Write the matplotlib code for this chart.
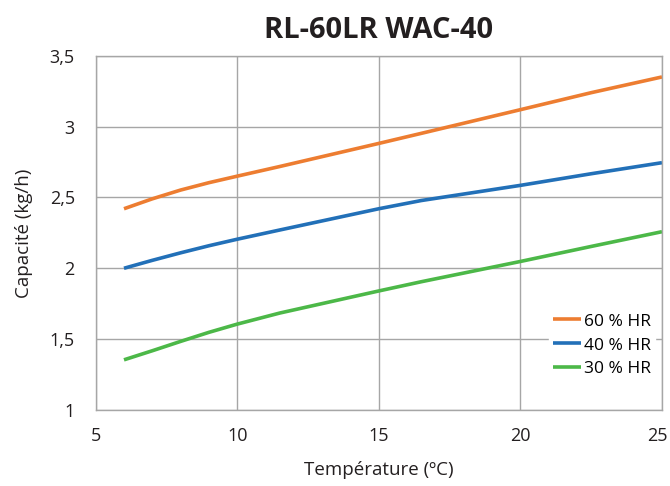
import matplotlib
matplotlib.use('Agg')
import matplotlib.pyplot as plt
from matplotlib.ticker import FuncFormatter
from matplotlib.transforms import ScaledTranslation

# Données
temperature = [6, 7, 8, 9, 10, 11.5, 15, 16.5, 20, 22.5, 25]
hr_60 = [2.42, 2.49, 2.552, 2.604, 2.65, 2.718, 2.881, 2.952, 3.119, 3.239, 3.35]
hr_40 = [2.00, 2.056, 2.109, 2.159, 2.205, 2.27, 2.42, 2.478, 2.585, 2.667, 2.745]
hr_30 = [1.354, 1.418, 1.484, 1.548, 1.606, 1.684, 1.84, 1.905, 2.048, 2.154, 2.258]

series = [
    ('60 % HR', hr_60, '#ED7D31'),
    ('40 % HR', hr_40, '#2270B8'),
    ('30 % HR', hr_30, '#4CB848'),
]

x_ticks = [5, 10, 15, 20, 25]
y_ticks = [1, 1.5, 2, 2.5, 3, 3.5]

plt.rcParams['font.family'] = ['Open Sans', 'DejaVu Sans']

fig = plt.figure(figsize=(6.7, 4.86), dpi=100)
ax = fig.add_axes([0.1428, 0.1564, 0.8452, 0.729])

for label, values, color in series:
    ax.plot(temperature, values, color=color, linewidth=2.6, label=label,
            solid_capstyle='butt', solid_joinstyle='round')

ax.set_xlim(5, 25)
ax.set_ylim(1, 3.5)
ax.set_xticks(x_ticks)
ax.set_yticks(y_ticks)
ax.yaxis.set_major_formatter(FuncFormatter(lambda v, p: f'{v:g}'.replace('.', ',')))
ax.tick_params(length=0, labelsize=13, colors='#231F20')
ax.tick_params(axis='y', pad=15)
ax.tick_params(axis='x', pad=12)

# le dernier libellé "25" reste dans la figure
last = ax.get_xticklabels()[-1]
last.set_horizontalalignment('right')
last.set_transform(last.get_transform() + ScaledTranslation(0.055, 0, fig.dpi_scale_trans))

ax.grid(True, color='#A6A6A6', linewidth=1.0)
ax.set_axisbelow(True)
for s in ax.spines.values():
    s.set_color('#A6A6A6')
    s.set_linewidth(1.0)

ax.set_xlabel('Température (ºC)', fontsize=13.5, color='#231F20', labelpad=12)
ax.set_ylabel('Capacité (kg/h)', fontsize=13.5, color='#231F20', labelpad=12)
ax.set_title('RL-60LR WAC-40', fontsize=21, fontweight='bold', color='#231F20', pad=13)

leg = ax.legend(loc='lower right', bbox_to_anchor=(1.003, 0.055), frameon=True,
                fontsize=12.5, handlelength=1.6, handletextpad=0.15,
                labelspacing=0.45, borderpad=0.25, fancybox=False)
leg.get_frame().set_facecolor('white')
leg.get_frame().set_edgecolor('white')
leg.get_frame().set_alpha(1)

fig.savefig('out.png', dpi=100)
